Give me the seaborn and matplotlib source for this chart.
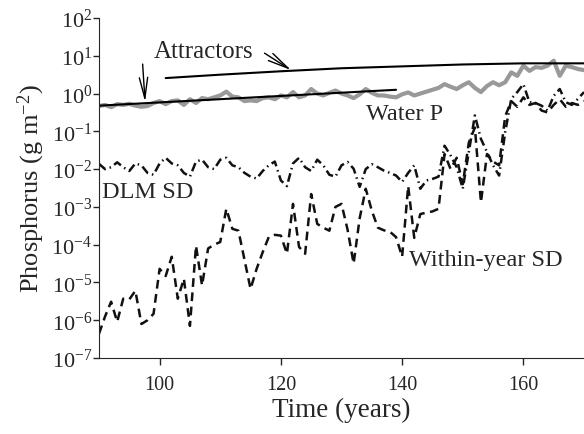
import numpy as np
import pandas as pd
import matplotlib
matplotlib.use("Agg")
import matplotlib.pyplot as plt
import seaborn as sns

sns.set_style("ticks")
plt.rcParams['font.family'] = ['Liberation Serif', 'DejaVu Serif']
plt.rcParams['mathtext.fontset'] = 'custom'
plt.rcParams['mathtext.rm'] = 'Liberation Serif'
plt.rcParams['mathtext.it'] = 'Liberation Serif:italic'

years = np.arange(90, 171)

# log10 values
water_p = [-0.33, -0.3, -0.36, -0.28, -0.3, -0.27, -0.32, -0.35, -0.33, -0.25,
           -0.2, -0.28, -0.2, -0.18, -0.3, -0.15, -0.25, -0.12, -0.15, -0.1,
           -0.05, 0.05, -0.08, -0.1, -0.2, -0.18, -0.2, -0.12, -0.1, -0.15,
           -0.05, -0.1, 0.04, -0.1, -0.05, 0.12, 0.0, -0.05, 0.02, 0.08,
           0.0, -0.05, -0.12, -0.02, 0.12, 0.02, -0.05, -0.05, -0.08, -0.1,
           -0.02, 0.03, -0.05, 0.0, 0.05, 0.1, 0.15, 0.25, 0.18, 0.12,
           0.22, 0.3, 0.15, 0.04, 0.2, 0.3, 0.22, 0.3, 0.56, 0.47,
           0.74, 0.6, 0.7, 0.68, 0.74, 0.87, 0.47, 0.74, 0.7, 0.65, 0.62]

dlm_sd = [-1.86, -2.0, -1.95, -1.82, -1.95, -2.05, -1.85, -1.9, -2.1, -2.15,
          -1.85, -1.7, -1.85, -1.9, -2.1, -2.2, -1.8, -1.75, -1.95, -2.0,
          -1.75, -1.7, -1.9, -1.95, -2.1, -2.2, -2.25, -2.05, -1.9, -1.8,
          -2.3, -2.45, -1.85, -1.7, -1.95, -2.05, -1.75, -1.9, -2.15, -2.2,
          -1.9, -1.81, -1.99, -2.47, -2.0, -1.87, -1.95, -2.04, -2.1, -2.17,
          -2.34, -2.1, -1.9, -2.52, -2.3, -2.26, -2.2, -1.38, -1.64, -1.95,
          -2.52, -1.55, -0.58, -1.2, -1.55, -1.9, -2.17, -1.02, -0.14, 0.04,
          0.25, -0.23, -0.25, -0.32, -0.45, -0.06, 0.12, -0.23, -0.3, -0.14, 0.04]

within_sd = [-6.36, -5.9, -5.51, -6.04, -5.43, -5.45, -5.22, -6.1, -6.0, -5.83,
             -4.64, -4.83, -4.32, -5.43, -4.9, -6.15, -4.03, -5.08, -4.1, -4.0,
             -3.93, -3.05, -3.58, -3.63, -4.4, -5.17, -4.64, -4.2, -3.8, -3.74,
             -3.76, -4.24, -2.92, -4.06, -4.24, -2.66, -3.45, -3.55, -3.63, -3.0,
             -2.92, -3.6, -4.5, -3.3, -2.52, -3.1, -3.55, -3.62, -3.66, -3.8,
             -4.32, -2.45, -3.82, -3.19, -3.15, -3.12, -3.05, -1.6, -2.0, -1.7,
             -2.4, -1.3, -0.9, -2.88, -1.6, -1.8, -1.9, -0.6, -0.2, -0.35,
             -0.1, -0.3, -0.25, -0.45, -0.5, -0.3, -0.15, -0.35, -0.25, -0.3, -0.2]

attr_hi_years = [101, 110, 120, 130, 140, 150, 160, 170]
attr_hi = [0.41, 0.5, 0.59, 0.67, 0.72, 0.77, 0.8, 0.8]
attr_lo_years = [90, 139]
attr_lo = [-0.32, 0.1]

df = pd.DataFrame({'year': years,
                   'water': 10 ** np.array(water_p),
                   'dlm': 10 ** np.array(dlm_sd),
                   'within': 10 ** np.array(within_sd)})

fig = plt.figure(figsize=(5.84, 4.35), dpi=100)
ax = fig.add_axes([0.1695, 0.1747, 0.8305, 0.7816])

sns.lineplot(data=df, x='year', y='water', color='#999999', lw=3.0, ax=ax)
sns.lineplot(x=attr_hi_years, y=10 ** np.array(attr_hi), color='black', lw=1.5, ax=ax)
sns.lineplot(x=attr_lo_years, y=10 ** np.array(attr_lo), color='black', lw=1.5, ax=ax)
sns.lineplot(data=df, x='year', y='dlm', color='#111111', lw=1.8, ax=ax,
             linestyle=(0, (3.5, 1.6, 0.6, 1.6)))
sns.lineplot(data=df, x='year', y='within', color='#111111', lw=1.8, ax=ax,
             linestyle=(0, (3.5, 2.2)))

ax.set_yscale('log')
ax.set_xlim(90, 170)
ax.set_ylim(1e-7, 1e2)
ax.set_yticks([10.0 ** k for k in range(-7, 3)])
ax.minorticks_off()
ax.set_xticks([100, 120, 140, 160])
ax.tick_params(axis='x', labelsize=14.5, length=5, width=1, direction='out', pad=7)
ax.tick_params(axis='y', labelsize=16, length=4, width=1, direction='out', pad=1)
sns.despine(ax=ax)
ax.set_xlabel('Time (years)', fontsize=19.5, labelpad=2)
ax.set_ylabel('Phosphorus (g m$^{-2}$)', fontsize=19, labelpad=3)

ax.text(99.1, 10 ** 1.13, 'Attractors', fontsize=18, va='center', ha='left')
ax.text(134, 10 ** -0.54, 'Water P', fontsize=17.5, va='center', ha='left')
ax.text(90.5, 10 ** -2.6, 'DLM SD', fontsize=17.5, va='center', ha='left')
ax.text(141.1, 10 ** -4.38, 'Within-year SD', fontsize=17.5, va='center', ha='left')

arrow = dict(arrowstyle='->,head_length=1.5,head_width=0.3', color='black', lw=1.0,
             shrinkA=0, shrinkB=0)
ax.annotate('', xy=(121.7, 10 ** 0.62), xytext=(117.3, 10 ** 1.07), arrowprops=arrow)
ax.annotate('', xy=(97.6, 10 ** -0.22), xytext=(97.2, 10 ** 0.78), arrowprops=arrow)

plt.savefig('out.png', dpi=100)
